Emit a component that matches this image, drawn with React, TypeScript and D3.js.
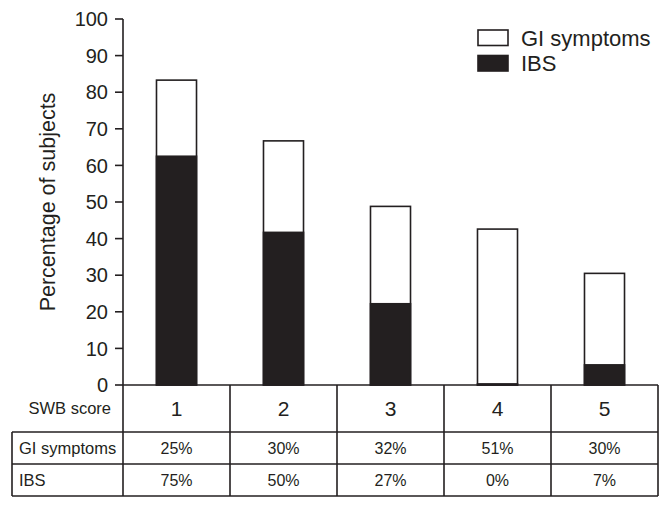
import React from "react";
import * as d3 from "d3";

const categories = ["1", "2", "3", "4", "5"];
const ibsValues = [62.5, 41.7, 22.2, 0.3, 5.5];
const totalValues = [83.3, 66.7, 48.8, 42.6, 30.5];
const giPct = ["25%", "30%", "32%", "51%", "30%"];
const ibsPct = ["75%", "50%", "27%", "0%", "7%"];
const yTicks = [0, 10, 20, 30, 40, 50, 60, 70, 80, 90, 100];
const legendItems = [
  { label: "GI symptoms", fill: "#ffffff" },
  { label: "IBS", fill: "#231f20" },
];

const W = 671;
const H = 509;
const INK = "#231f20";
const FONT = "'Liberation Sans', Arial, Helvetica, sans-serif";

export default function App() {
  const x0 = 123;
  const x1 = 658;
  const y0 = 385;
  const yTop = 19;
  const x = d3.scaleBand<string>().domain(categories).range([x0, x1]).paddingInner(0.626).paddingOuter(0.313);
  const col = d3.scaleBand<string>().domain(categories).range([x0, x1]);
  const y = d3.scaleLinear().domain([0, 100]).range([y0, yTop]);

  const rowY = [y0, 432, 464, 496];
  const tableLeft = 12;

  return (
    <svg width={W} height={H} style={{ position: "absolute", left: 0, top: 0, background: "#fff" }} fontFamily={FONT}>
      {/* y axis */}
      <line x1={x0} x2={x0} y1={yTop} y2={rowY[3]} stroke={INK} strokeWidth={1.6} />
      {yTicks.map((t) => (
        <g key={t}>
          <line x1={x0 - 8} x2={x0} y1={y(t)} y2={y(t)} stroke={INK} strokeWidth={1.6} />
          <text x={x0 - 15} y={y(t)} dy="0.36em" textAnchor="end" fontSize={20} fill={INK}>
            {t}
          </text>
        </g>
      ))}
      <text
        transform={`translate(${55},${(y0 + yTop) / 2}) rotate(-90)`}
        textAnchor="middle"
        fontSize={21.5}
        fill={INK}
      >
        Percentage of subjects
      </text>

      {/* bars */}
      {categories.map((c, i) => (
        <g key={c}>
          <rect
            x={x(c)}
            y={y(totalValues[i])}
            width={x.bandwidth()}
            height={y(0) - y(totalValues[i])}
            fill="#fff"
            stroke={INK}
            strokeWidth={1.6}
          />
          <rect
            x={x(c)}
            y={y(ibsValues[i])}
            width={x.bandwidth()}
            height={y(0) - y(ibsValues[i])}
            fill={INK}
            stroke={INK}
            strokeWidth={1.6}
          />
        </g>
      ))}

      {/* x axis / table */}
      <line x1={x0} x2={x1} y1={y0} y2={y0} stroke={INK} strokeWidth={1.6} />
      {rowY.slice(1).map((ry) => (
        <line key={ry} x1={tableLeft} x2={x1} y1={ry} y2={ry} stroke={INK} strokeWidth={1.6} />
      ))}
      <line x1={tableLeft} x2={tableLeft} y1={rowY[1]} y2={rowY[3]} stroke={INK} strokeWidth={1.6} />
      {categories.map((c) => (
        <line key={c} x1={(col(c) as number) + col.bandwidth()} x2={(col(c) as number) + col.bandwidth()} y1={y0} y2={rowY[3]} stroke={INK} strokeWidth={1.6} />
      ))}
      <text x={111} y={(rowY[0] + rowY[1]) / 2} dy="0.36em" textAnchor="end" fontSize={16.5} fill={INK}>
        SWB score
      </text>
      <text x={19} y={(rowY[1] + rowY[2]) / 2} dy="0.36em" fontSize={16.5} fill={INK}>
        GI symptoms
      </text>
      <text x={19} y={(rowY[2] + rowY[3]) / 2} dy="0.36em" fontSize={16.5} fill={INK}>
        IBS
      </text>
      {categories.map((c, i) => {
        const cx = (col(c) as number) + col.bandwidth() / 2;
        return (
          <g key={c}>
            <text x={cx} y={(rowY[0] + rowY[1]) / 2} dy="0.36em" textAnchor="middle" fontSize={21} fill={INK}>
              {c}
            </text>
            <text x={cx} y={(rowY[1] + rowY[2]) / 2} dy="0.36em" textAnchor="middle" fontSize={16} fill={INK}>
              {giPct[i]}
            </text>
            <text x={cx} y={(rowY[2] + rowY[3]) / 2} dy="0.36em" textAnchor="middle" fontSize={16} fill={INK}>
              {ibsPct[i]}
            </text>
          </g>
        );
      })}

      {/* legend */}
      {legendItems.map((it, i) => (
        <g key={it.label} transform={`translate(478,${30 + i * 25.5})`}>
          <rect x={0} y={0} width={30} height={15.5} fill={it.fill} stroke={INK} strokeWidth={1.6} />
          <text x={43} y={8} dy="0.36em" fontSize={22} fill={INK}>
            {it.label}
          </text>
        </g>
      ))}
    </svg>
  );
}
